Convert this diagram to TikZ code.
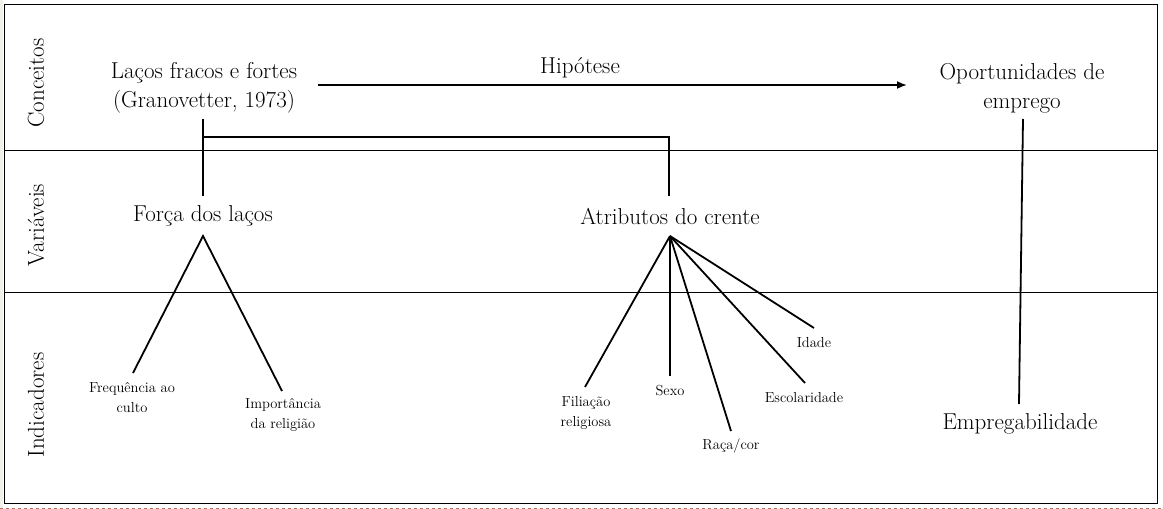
\documentclass[tikz,border=0pt]{standalone}
\usepackage{fontspec}
\usetikzlibrary{arrows.meta}

\definecolor{pagegray}{HTML}{F2F0EB}
\definecolor{pagered}{HTML}{B8705A}

\tikzset{
	big/.style={font=\fontsize{23}{29}\selectfont, inner sep=0pt, align=center},
	small/.style={font=\fontsize{14.5}{20}\selectfont, inner sep=0pt, align=center},
	band/.style={font=\fontsize{23}{25}\selectfont, rotate=90, inner sep=0pt},
	frame/.style={line width=0.9pt},
	link/.style={line width=1.8pt},
}

\begin{document}
\begin{tikzpicture}[x=1pt,y=-1pt]
		
		% THE PAGE
		\useasboundingbox (0,0) rectangle (1163,509);
		\fill[pagegray] (0,0) rectangle (3,509);
		\draw[dashed, draw=pagered, line width=0.8pt] (0,508) -- (1163,508);
		%
		% THE FRAME AND THE BANDS
		\draw[frame] (4,4) rectangle (1157,503);
		\draw[frame] (4,150) -- (1157,150);
		\draw[frame] (4,292) -- (1157,292);
		\node[band] (conceitos) at (36,83) {Conceitos};
		\node[band] (variaveis) at (36,225) {Variáveis};
		\node[band] (indicadores) at (36,405) {Indicadores};
		%
		% CONCEITOS
		\node[big] (lacos) at (204,88) {Laços fracos e fortes\\(Granovetter, 1973)};
		\node[big] (hipotese) at (580,68) {Hipótese};
		\node[big] (oportunidades) at (1022,88) {Oportunidades de\\emprego};
		%
		% VARIAVEIS
		\node[big] (forca) at (203,216) {Força dos laços};
		\node[big] (atributos) at (670,216) {Atributos do crente};
		%
		% INDICADORES
		\node[small] (frequencia) at (132,398) {Frequência ao\\culto};
		\node[small] (importancia) at (283,415) {Importância\\da religião};
		\node[small] (filiacao) at (586,413) {Filiação\\religiosa};
		\node[small] (sexo) at (670,391) {Sexo};
		\node[small] (raca) at (731,446) {Raça/cor};
		\node[small] (escolaridade) at (804,398) {Escolaridade};
		\node[small] (idade) at (814,343) {Idade};
		\node[big] (empregabilidade) at (1020,424) {Empregabilidade};
		%
		% THE ENDS OF THE LINES
		\coordinate (hipStart) at (318,85);
		\coordinate (hipEnd) at (907,85);
		\coordinate (lacosFoot) at (203,119);
		\coordinate (lacosJoint) at (203,137);
		\coordinate (atribJoint) at (669,137);
		\coordinate (forcaHead) at (203,196);
		\coordinate (atribHead) at (669,196);
		\coordinate (forcaFoot) at (203,236);
		\coordinate (atribFoot) at (670,236);
		\coordinate (frequenciaHead) at (133,373);
		\coordinate (importanciaHead) at (282,391);
		\coordinate (filiacaoHead) at (585,387);
		\coordinate (sexoHead) at (670,376);
		\coordinate (racaHead) at (731,431);
		\coordinate (escolaridadeHead) at (805,383);
		\coordinate (idadeHead) at (814,328);
		\coordinate (oportFoot) at (1023,119);
		\coordinate (empregHead) at (1019,404);
		%
		% THE LINES
		\draw[link, -{Latex[length=10pt,width=8pt]}] (hipStart) -- (hipEnd);
		\draw[link] (lacosFoot) -- (forcaHead);
		\draw[link] (lacosJoint) -- (atribJoint) -- (atribHead);
		\draw[link] (oportFoot) -- (empregHead);
		\draw[link] (frequenciaHead) -- (forcaFoot) -- (importanciaHead);
		\foreach \leaf in {filiacao,sexo,raca,escolaridade,idade}
			\draw[link] (atribFoot) -- (\leaf Head);
	\end{tikzpicture}
\end{document}
